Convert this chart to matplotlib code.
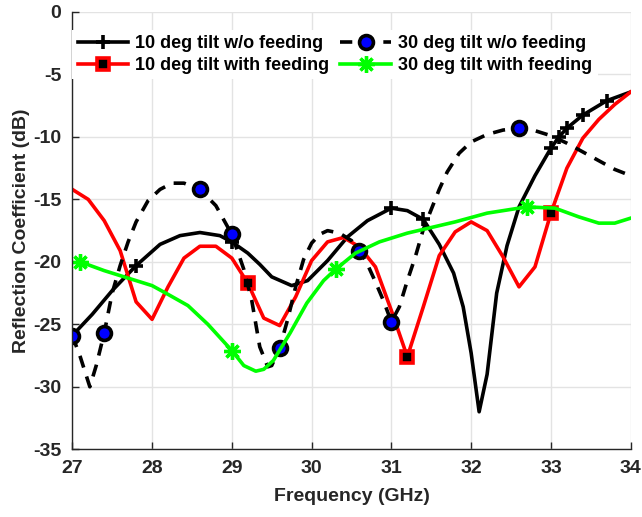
import matplotlib
matplotlib.use('Agg')
import matplotlib.pyplot as plt

plt.rcParams['font.family'] = ['Liberation Sans', 'DejaVu Sans']
plt.rcParams['font.weight'] = 'bold'
plt.rcParams['axes.unicode_minus'] = False

# 10 deg tilt w/o feeding (black solid)
f_10_wo = [27.0, 27.25, 27.5, 27.8, 28.1, 28.35, 28.6, 28.85, 29.0, 29.2, 29.35, 29.5, 29.75, 29.95,
           30.2, 30.45, 30.7, 31.0, 31.2, 31.4, 31.6, 31.78, 31.9, 32.0, 32.1, 32.2, 32.32, 32.45,
           32.6, 32.8, 33.0, 33.1, 33.2, 33.4, 33.7, 34.0]
s_10_wo = [-25.9, -24.2, -22.3, -20.3, -18.6, -17.9, -17.65, -17.9, -18.4, -19.3, -20.2, -21.2, -21.9, -21.5,
           -19.9, -18.0, -16.7, -15.7, -15.9, -16.6, -18.6, -20.9, -23.6, -27.3, -32.0, -29.0, -22.5, -18.7,
           -15.6, -13.1, -10.9, -10.0, -9.3, -8.25, -7.1, -6.4]
m_10_wo = [0, 3, 8, 17, 19, 30, 31, 32, 33, 34]

# 10 deg tilt with feeding (red)
f_10_w = [27.0, 27.2, 27.4, 27.6, 27.8, 28.0, 28.2, 28.4, 28.6, 28.8, 29.0, 29.2, 29.4, 29.6, 29.8, 30.0,
          30.2, 30.4, 30.6, 30.8, 31.0, 31.2, 31.4, 31.6, 31.8, 32.0, 32.2, 32.4, 32.6, 32.8, 33.0, 33.2,
          33.4, 33.6, 33.8, 34.0]
s_10_w = [-14.2, -15.0, -16.7, -19.1, -23.2, -24.6, -22.0, -19.7, -18.75, -18.75, -19.7, -21.7, -24.5, -25.1,
          -22.8, -19.9, -18.4, -18.05, -18.8, -20.4, -23.9, -27.6, -23.6, -19.5, -17.6, -16.8, -17.5, -19.6,
          -22.0, -20.4, -16.1, -12.5, -10.1, -8.6, -7.4, -6.4]
m_10_w = [11, 21, 30]

# 30 deg tilt w/o feeding (black dashed)
f_30_wo = [27.0, 27.1, 27.22, 27.3, 27.4, 27.5, 27.6, 27.7, 27.8, 27.95, 28.1, 28.25, 28.4, 28.6, 28.8,
           29.0, 29.15, 29.25, 29.35, 29.45, 29.5, 29.6, 29.7, 29.8, 29.9, 30.0, 30.1, 30.2, 30.35, 30.5,
           30.6, 30.7, 30.8, 30.9, 31.0, 31.1, 31.2, 31.3, 31.4, 31.5, 31.6, 31.7, 31.85, 32.0, 32.2,
           32.4, 32.6, 32.8, 33.0, 33.2, 33.4, 33.6, 33.8, 34.0]
s_30_wo = [-25.9, -27.6, -30.0, -28.3, -25.7, -22.5, -20.3, -18.4, -16.8, -15.1, -14.2, -13.7, -13.7, -14.2, -15.5,
           -17.8, -20.6, -23.1, -26.8, -28.4, -28.3, -26.9, -24.6, -22.0, -19.8, -18.5, -17.8, -17.5, -17.7, -18.3,
           -19.1, -20.2, -21.6, -23.1, -24.8, -23.6, -21.5, -19.6, -17.4, -15.8, -14.2, -12.8, -11.3, -10.4, -9.8,
           -9.45, -9.3, -9.5, -9.9, -10.5, -11.2, -11.9, -12.6, -13.1]
m_30_wo = [0, 4, 13, 15, 21, 30, 34, 46]

# 30 deg tilt with feeding (green)
f_30_w = [27.1, 27.4, 27.7, 28.0, 28.2, 28.45, 28.7, 29.0, 29.15, 29.3, 29.4, 29.52, 29.73, 29.94,
          30.15, 30.3, 30.55, 30.85, 31.2, 31.6, 31.8, 32.2, 32.7, 33.05, 33.35, 33.6, 33.8, 34.0]
s_30_w = [-20.0, -20.7, -21.3, -21.9, -22.6, -23.5, -25.0, -27.1, -28.3, -28.75, -28.6, -27.9, -25.7, -23.3,
          -21.5, -20.6, -19.3, -18.4, -17.7, -17.1, -16.8, -16.1, -15.6, -15.7, -16.4, -16.9, -16.9, -16.5]
m_30_w = [0, 7, 15, 22]

xticks = [27, 28, 29, 30, 31, 32, 33, 34]
yticks = [0, -5, -10, -15, -20, -25, -30, -35]

dark = '#262626'
lw = 2.6

fig = plt.figure(figsize=(6.42, 5.17), dpi=100)
ax = fig.add_axes([0.1126, 0.131, 0.8698, 0.8458])

ax.plot(f_10_wo, s_10_wo, color='black', linewidth=lw, marker='+', markersize=10, markeredgewidth=2.6,
        markevery=m_10_wo, label='10 deg tilt w/o feeding')
ax.plot(f_10_w, s_10_w, color='red', linewidth=lw, marker='s', markersize=8, markeredgewidth=2.6,
        markerfacecolor='black', markeredgecolor='red', markevery=m_10_w, label='10 deg tilt with feeding')
ax.plot(f_30_wo, s_30_wo, color='black', linewidth=lw, dashes=(3.4, 2.6), marker='o', markersize=10,
        markeredgewidth=2.6, markerfacecolor='blue', markeredgecolor='black', markevery=m_30_wo,
        label='30 deg tilt w/o feeding')
ax.plot(f_30_w, s_30_w, color='#00ff00', linewidth=lw, marker=(8, 2, 0), markersize=12, markeredgewidth=2.4,
        markevery=m_30_w, label='30 deg tilt with feeding')

ax.set_xlim(27, 34)
ax.set_ylim(-35, 0)
ax.set_xticks(xticks)
ax.set_yticks(yticks)
ax.grid(True, color='#e3e3e3', linewidth=1)
ax.set_axisbelow(True)
for s in ['top', 'right']:
    ax.spines[s].set_visible(False)
for s in ['left', 'bottom']:
    ax.spines[s].set_color(dark)
    ax.spines[s].set_linewidth(1)
ax.tick_params(direction='in', length=5, width=1, colors=dark, labelsize=14, pad=8)
for lab in ax.get_xticklabels() + ax.get_yticklabels():
    lab.set_fontweight('bold')

ax.set_xlabel('Frequency (GHz)', fontsize=14, fontweight='bold', color=dark, labelpad=8)
ax.set_ylabel('Reflection Coefficient (dB)', fontsize=14, fontweight='bold', color=dark, labelpad=2)

leg = ax.legend(ncol=2, loc='upper left', bbox_to_anchor=(0.0, 0.959), fontsize=13,
                handlelength=2.8, handletextpad=0.4, columnspacing=0.6, labelspacing=0.25,
                borderpad=0.3, borderaxespad=0, frameon=True, fancybox=False)
leg.get_frame().set_edgecolor('none')
leg.get_frame().set_facecolor('white')
leg.get_frame().set_alpha(1)
for t in leg.get_texts():
    t.set_fontweight('bold')
    t.set_color('black')

fig.savefig('out.png', dpi=100)
